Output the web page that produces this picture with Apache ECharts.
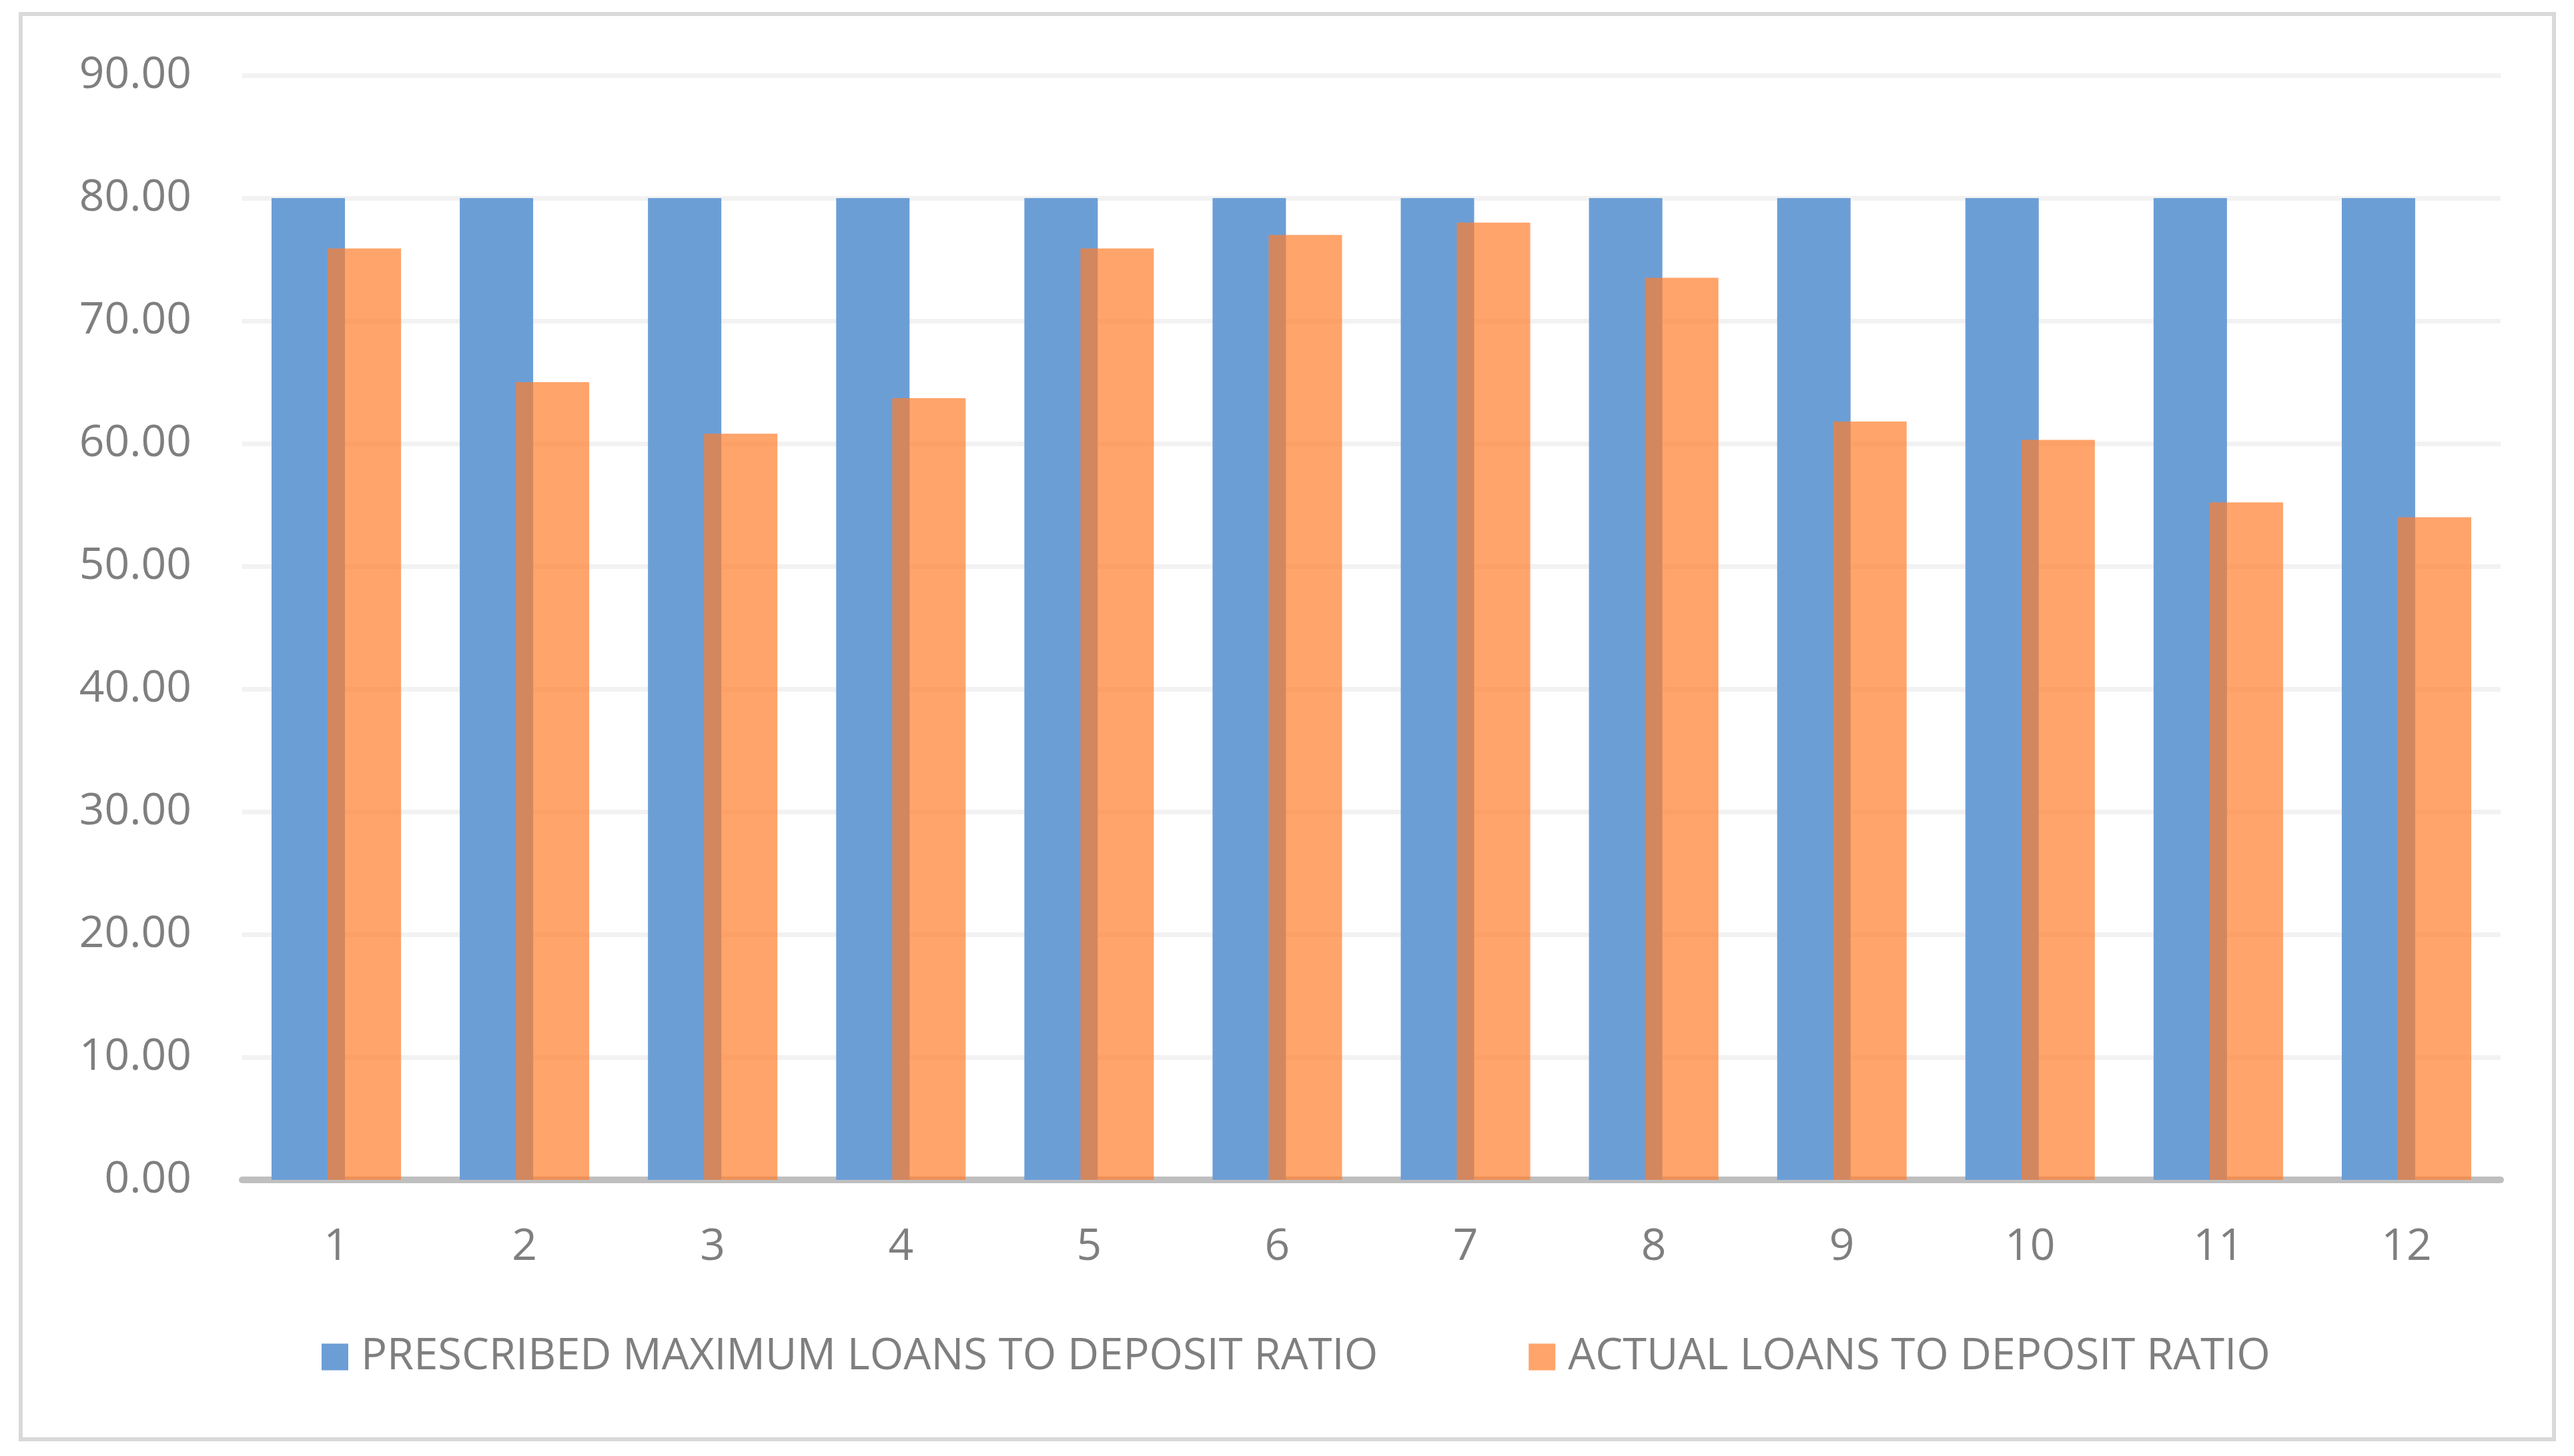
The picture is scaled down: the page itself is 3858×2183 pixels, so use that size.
<!DOCTYPE html>
<html>
<head>
<meta charset="utf-8">
<script src="https://cdn.jsdelivr.net/npm/echarts@6/dist/echarts.min.js"></script>
<style>
  html, body { margin: 0; padding: 0; background: #ffffff; }
  #chart { width: 3858px; height: 2183px; }
</style>
</head>
<body>
<div id="chart"></div>
<script>
const categories = ['1', '2', '3', '4', '5', '6', '7', '8', '9', '10', '11', '12'];
const prescribedMax = [80, 80, 80, 80, 80, 80, 80, 80, 80, 80, 80, 80];
const actualRatio = [75.9, 65.0, 60.8, 63.7, 75.9, 77.0, 78.0, 73.5, 61.8, 60.3, 55.2, 54.0];
const seriesNames = ['PRESCRIBED MAXIMUM LOANS TO DEPOSIT RATIO', 'ACTUAL LOANS TO DEPOSIT RATIO'];
const yMin = 0, yMax = 90, yInterval = 10;

const FONT = '"Open Sans", "Liberation Sans", sans-serif';
const TEXT_COLOR = '#7f7f7f';

const chart = echarts.init(document.getElementById('chart'), null, { renderer: 'canvas' });
chart.setOption({
  backgroundColor: '#ffffff',
  animation: false,
  textStyle: { fontFamily: FONT },
  graphic: [{
    type: 'rect',
    shape: { x: 31, y: 21, width: 3797, height: 2137 },
    style: { fill: 'none', stroke: '#d9d9d9', lineWidth: 6 },
    silent: true
  }],
  grid: { left: 363, right: 110, top: 113, bottom: 414, containLabel: false },
  legend: {
    left: 477,
    top: 1997,
    itemWidth: 40,
    itemHeight: 40,
    itemGap: 226,
    icon: 'rect',
    data: seriesNames,
    textStyle: { fontFamily: FONT, fontSize: 65, color: TEXT_COLOR, padding: [0, 0, 0, 14] }
  },
  xAxis: {
    type: 'category',
    data: categories,
    axisTick: { show: false },
    axisLine: { show: true, lineStyle: { color: '#bfbfbf', width: 10 } },
    axisLabel: { fontFamily: FONT, fontSize: 66, color: TEXT_COLOR, margin: 68 },
    splitLine: { show: false }
  },
  yAxis: {
    type: 'value',
    min: yMin,
    max: yMax,
    interval: yInterval,
    axisLine: { show: false },
    axisTick: { show: false },
    axisLabel: {
      fontFamily: FONT, fontSize: 66, color: TEXT_COLOR, margin: 76,
      formatter: v => v.toFixed(2)
    },
    splitLine: { show: true, lineStyle: { color: '#f2f2f2', width: 7 } }
  },
  series: [
    {
      name: seriesNames[0],
      type: 'bar',
      data: prescribedMax,
      barWidth: '39%',
      barGap: '-23.6%',
      itemStyle: { color: '#6c9ed6' }
    },
    {
      name: seriesNames[1],
      type: 'bar',
      data: actualRatio,
      barWidth: '39%',
      itemStyle: { color: 'rgba(255,126,44,0.7)' }
    }
  ]
});
</script>
</body>
</html>
